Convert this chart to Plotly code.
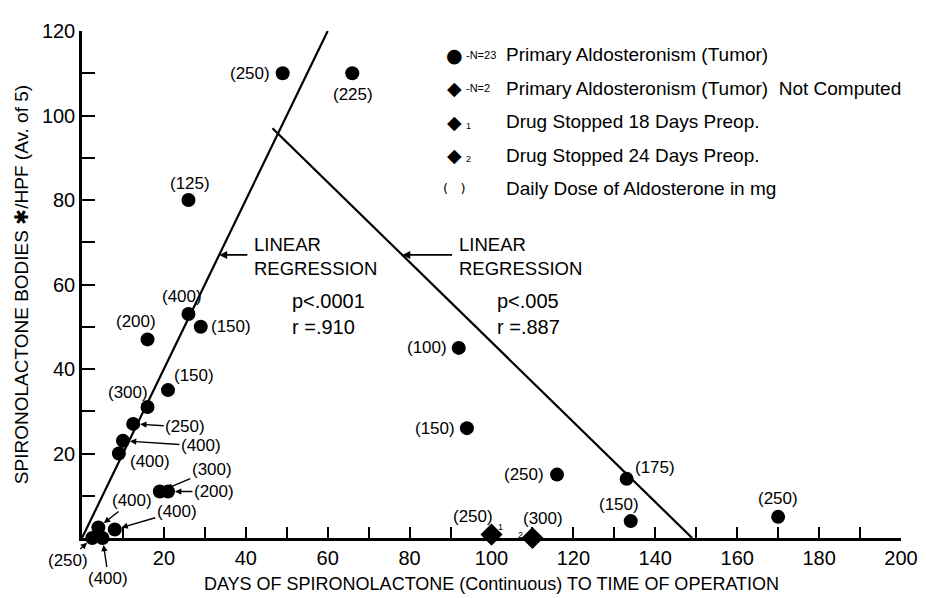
import plotly.graph_objects as go

# ---------------- data ----------------
# Circles: primary aldosteronism (tumor), N = 23
circle_days = [49, 66, 26, 26, 29, 16, 21, 16, 12.5, 10, 9, 19, 21, 4, 8, 5, 2.5,
               92, 94, 116, 133, 134, 170]
circle_bodies = [110, 110, 80, 53, 50, 47, 35, 31, 27, 23, 20, 11, 11, 2.5, 2, 0, 0,
                 45, 26, 15, 14, 4, 5]
circle_dose = ["(250)", "(225)", "(125)", "(400)", "(150)", "(200)", "(150)", "(300)",
               "(250)", "(400)", "(400)", "(300)", "(200)", "(400)", "(400)", "(400)",
               "(250)", "(100)", "(150)", "(250)", "(175)", "(150)", "(250)"]

# Diamonds: not computed (N = 2)
diamond_days = [100, 110]
diamond_bodies = [0.8, 0]
diamond_dose = ["(250)", "(300)"]
diamond_note = ["1", "2"]

# Regression lines (end points)
reg1_x = [0, 60]
reg1_y = [0, 120]
reg2_x = [46.5, 149]
reg2_y = [97, 0]

x_tick_vals = list(range(10, 201, 10))
x_tick_text = [str(v) if v % 20 == 0 else "" for v in x_tick_vals]
y_tick_vals = list(range(10, 121, 10))
y_tick_text = [str(v) if v % 20 == 0 else "" for v in y_tick_vals]

# ---------------- style / layout ----------------
FONT = "Liberation Sans, Arial, sans-serif"
W, H = 926, 598
ML, MR, MT, MB = 73, 33, 16, 68
PW, PH = W - ML - MR, H - MT - MB


def px(xp, yp):
    """pixel position -> paper coordinates"""
    return (xp - ML) / PW, (H - MB - yp) / PH


# label offsets (pixels, screen y down) and whether an arrow is drawn
circle_lab = [(-33, 0, 0), (1, 21, 0), (2, -17, 0), (-6, -18, 0), (30, 0, 0),
              (-12, -18, 0), (26, -15, 0), (-20, -15, 0), (52, 3, 1), (78, 5, 1),
              (31, 8, 0), (52, -22, 1), (46, 0, 1), (34, -27, 1), (62, -18, 1),
              (6, 40, 1), (-24, 22, 1),
              (-32, 0, 0), (-32, 0, 0), (-33, 0, 0), (28, -11, 0), (-12, -17, 0), (0, -18, 0)]
diamond_lab = [(-19, -18), (11, -20)]
diamond_note_off = [(9, -8), (-12, -3)]

fig = go.Figure()

fig.add_trace(go.Scatter(x=reg1_x, y=reg1_y, mode="lines",
                         line=dict(color="black", width=2.2), hoverinfo="skip"))
fig.add_trace(go.Scatter(x=reg2_x, y=reg2_y, mode="lines",
                         line=dict(color="black", width=2.2), hoverinfo="skip"))
fig.add_trace(go.Scatter(x=circle_days, y=circle_bodies, mode="markers",
                         marker=dict(symbol="circle", size=14, color="black"),
                         cliponaxis=False))
fig.add_trace(go.Scatter(x=diamond_days, y=diamond_bodies, mode="markers",
                         marker=dict(symbol="diamond", size=17, color="black"),
                         cliponaxis=False))

ann = []
lab_font = dict(family=FONT, size=17, color="black")
for xv, yv, t, (dx, dy, arr) in zip(circle_days, circle_bodies, circle_dose, circle_lab):
    if arr:
        ann.append(dict(x=xv, y=yv, xref="x", yref="y", text=t, showarrow=True,
                        ax=dx, ay=dy, arrowhead=2, arrowsize=0.9, arrowwidth=1.4,
                        arrowcolor="black", standoff=7, font=lab_font))
    else:
        ann.append(dict(x=xv, y=yv, xref="x", yref="y", text=t, showarrow=False,
                        xshift=dx, yshift=-dy, font=lab_font))
for xv, yv, t, (dx, dy), n, (nx, ny) in zip(diamond_days, diamond_bodies, diamond_dose,
                                            diamond_lab, diamond_note, diamond_note_off):
    ann.append(dict(x=xv, y=yv, xref="x", yref="y", text=t, showarrow=False,
                    xshift=dx, yshift=-dy, font=lab_font))
    ann.append(dict(x=xv, y=yv, xref="x", yref="y", text=n, showarrow=False,
                    xshift=nx, yshift=-ny, font=dict(family=FONT, size=9, color="black")))

# regression annotations
big = dict(family=FONT, size=18.5, color="black")
for (tx, ty), lx in [((243, 245), 33.5), ((448, 245), 78.2)]:
    xp, yp = px(tx, ty)
    ann.append(dict(x=xp, y=yp, xref="paper", yref="paper", text="LINEAR<br>REGRESSION",
                    showarrow=False, xanchor="left", yanchor="middle", align="left",
                    font=big))
    ann.append(dict(x=lx, y=67, xref="x", yref="y", text="", showarrow=True,
                    ax=(tx - 3) - (ML + lx * PW / 200), ay=0, arrowhead=2,
                    arrowsize=1, arrowwidth=1.6, arrowcolor="black"))
p_texts = ["p&lt;.0001<br>r =.910", "p&lt;.005<br>r =.887"]
for (sx, sy), t in zip([(281, 303), (487, 303)], p_texts):
    xp, yp = px(sx, sy)
    ann.append(dict(x=xp, y=yp, xref="paper", yref="paper", text=t, showarrow=False,
                    xanchor="left", yanchor="middle", align="left",
                    font=dict(family=FONT, size=20, color="black")))

# legend (drawn as text)
leg_font = dict(family=FONT, size=19, color="black")
small = dict(family=FONT, size=11, color="black")
leg_rows = [("●", "-N=23", "Primary Aldosteronism (Tumor)"),
            ("◆", "-N=2", "Primary Aldosteronism (Tumor)  Not Computed"),
            ("◆", "1", "Drug Stopped 18 Days Preop."),
            ("◆", "2", "Drug Stopped 24 Days Preop."),
            ("(   )", "", "Daily Dose of Aldosterone in mg")]
for i, (sym, note, txt) in enumerate(leg_rows):
    yrow = 40 + 34 * i
    xp, yp = px(446, yrow)
    ann.append(dict(x=xp, y=yp, xref="paper", yref="paper", text=sym, showarrow=False,
                    xanchor="center", yanchor="middle",
                    font=dict(family="DejaVu Sans", size=19 if i < 4 else 13, color="black")))
    if note:
        nx, ny = px(455, yrow + (0 if i < 2 else 4))
        ann.append(dict(x=nx, y=ny, xref="paper", yref="paper", text=note, showarrow=False,
                        xanchor="left", yanchor="middle",
                        font=small if i < 2 else dict(family=FONT, size=9, color="black")))
    tx, ty = px(496, yrow)
    ann.append(dict(x=tx, y=ty, xref="paper", yref="paper", text=txt, showarrow=False,
                    xanchor="left", yanchor="middle", font=leg_font))

fig.update_layout(
    width=W, height=H,
    margin=dict(l=ML, r=MR, t=MT, b=MB),
    paper_bgcolor="white", plot_bgcolor="white",
    showlegend=False,
    font=dict(family=FONT, color="black"),
    annotations=ann,
    xaxis=dict(range=[0, 200], showgrid=False, zeroline=False, showline=True,
               linecolor="black", linewidth=2.5, ticks="inside", ticklen=11,
               tickwidth=1.5, tickcolor="black", tickvals=x_tick_vals,
               ticktext=x_tick_text, tickfont=dict(family=FONT, size=20),
               title=dict(text="DAYS OF SPIRONOLACTONE (Continuous) TO TIME OF OPERATION",
                          font=dict(family=FONT, size=18), standoff=10)),
    yaxis=dict(range=[0, 120], showgrid=False, zeroline=False, showline=True,
               linecolor="black", linewidth=2.5, ticks="inside", ticklen=13,
               tickwidth=1.5, tickcolor="black", tickvals=y_tick_vals,
               ticktext=y_tick_text, tickfont=dict(family=FONT, size=20),
               title=dict(text="SPIRONOLACTONE BODIES ✱/HPF (Av. of 5)",
                          font=dict(family=FONT, size=19), standoff=9)),
)

fig.write_html("out.html")
